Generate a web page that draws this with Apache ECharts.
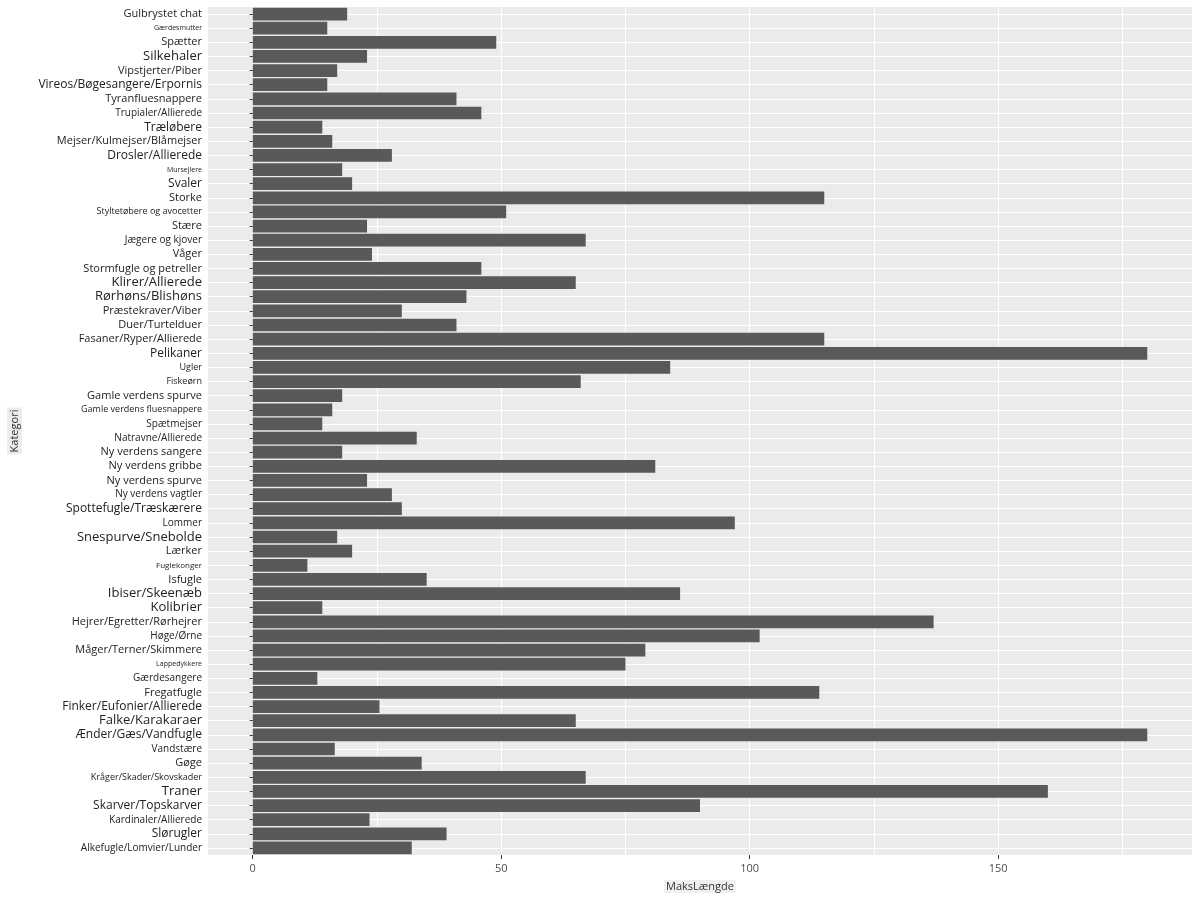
<!DOCTYPE html>
<html>
<head>
<meta charset="utf-8">
<script src="https://cdn.jsdelivr.net/npm/echarts@6/dist/echarts.min.js"></script>
<style>
  html, body {margin: 0; padding: 0; background: #fff;}
  #chart {width: 1200px; height: 900px;}
</style>
</head>
<body>
<div id="chart"></div>
<script>
// categories top to bottom
let categories = [
    'Gulbrystet chat', 'Gærdesmutter', 'Spætter', 'Silkehaler', 'Vipstjerter/Piber',
    'Vireos/Bøgesangere/Erpornis', 'Tyranfluesnappere', 'Trupialer/Allierede', 'Træløbere',
    'Mejser/Kulmejser/Blåmejser', 'Drosler/Allierede', 'Mursejlere', 'Svaler', 'Storke',
    'Styltetøbere og avocetter', 'Stære', 'Jægere og kjover', 'Våger', 'Stormfugle og petreller',
    'Klirer/Allierede', 'Rørhøns/Blishøns', 'Præstekraver/Viber', 'Duer/Turtelduer',
    'Fasaner/Ryper/Allierede', 'Pelikaner', 'Ugler', 'Fiskeørn', 'Gamle verdens spurve',
    'Gamle verdens fluesnappere', 'Spætmejser', 'Natravne/Allierede', 'Ny verdens sangere',
    'Ny verdens gribbe', 'Ny verdens spurve', 'Ny verdens vagtler', 'Spottefugle/Træskærere',
    'Lommer', 'Snespurve/Snebolde', 'Lærker', 'Fuglekonger', 'Isfugle', 'Ibiser/Skeenæb',
    'Kolibrier', 'Hejrer/Egretter/Rørhejrer', 'Høge/Ørne', 'Måger/Terner/Skimmere',
    'Lappedykkere', 'Gærdesangere', 'Fregatfugle', 'Finker/Eufonier/Allierede',
    'Falke/Karakaraer', 'Ænder/Gæs/Vandfugle', 'Vandstære', 'Gøge', 'Kråger/Skader/Skovskader',
    'Traner', 'Skarver/Topskarver', 'Kardinaler/Allierede', 'Slørugler', 'Alkefugle/Lomvier/Lunder'
];

let maks_laengde = [
    19, 15, 49, 23, 17,
    15, 41, 46, 14,
    16, 28, 18, 20, 115,
    51, 23, 67, 24, 46,
    65, 43, 30, 41,
    115, 180, 84, 66, 18,
    16, 14, 33, 18,
    81, 23, 28, 30,
    97, 17, 20, 11, 35, 86,
    14, 137, 102, 79,
    75, 13, 114, 25.5,
    65, 180, 16.5, 34, 67,
    160, 90, 23.5, 39, 32
];

let x_ticks = [0, 50, 100, 150];
let x_grid = [0, 25, 50, 75, 100, 125, 150, 175];

// label font sizes (the reference renders them unevenly)
let label_sizes = [
    11, 7, 11, 13, 11,
    12, 11, 10, 12,
    11, 12, 7, 12, 11,
    9, 11, 10, 11, 11,
    13, 13, 11, 11,
    11, 12, 9, 9, 11,
    9, 10, 10, 11,
    11, 11, 10, 12,
    10, 13, 11, 8, 11, 13,
    13, 11, 10, 11,
    7, 10, 11, 12,
    13, 12, 10, 11, 9,
    13, 12, 10, 12, 10
];

let y_data = categories.map((c, i) => ({
    value: c,
    textStyle: {fontSize: label_sizes[i]}
}));

let chart = echarts.init(document.getElementById('chart'), null, {renderer: 'canvas'});

let option = {
    backgroundColor: '#ffffff',
    textStyle: {fontFamily: 'Open Sans'},
    grid: {
        left: 208,
        right: 8,
        top: 7,
        bottom: 45,
        show: true,
        backgroundColor: '#ebebeb',
        borderWidth: 0,
        outerBoundsMode: 'none'
    },
    xAxis: [{
        type: 'value',
        min: -9,
        max: 189,
        axisLine: {show: false},
        axisTick: {show: true, customValues: x_ticks, length: 4, lineStyle: {color: '#333', width: 1}},
        axisLabel: {
            customValues: x_ticks,
            fontSize: 11,
            margin: 8,
            color: function (v) {
                return v === 0 ? '#5b4f9e' : '#4d4d4d';
            }
        },
        splitLine: {show: false},
        name: 'MaksLængde',
        nameLocation: 'middle',
        nameGap: 25,
        nameTextStyle: {
            fontSize: 11, color: '#333',
            backgroundColor: '#f0f0f0', padding: [1, 2]
        }
    }, {
        type: 'value',
        min: -9,
        max: 189,
        position: 'bottom',
        axisLine: {show: false},
        axisTick: {show: false, customValues: x_grid},
        axisLabel: {show: false},
        splitLine: {show: true, lineStyle: {color: '#ffffff', width: 1}}
    }],
    yAxis: {
        type: 'category',
        inverse: true,
        data: y_data,
        axisLine: {show: false},
        axisTick: {show: true, alignWithLabel: true, length: 3, lineStyle: {color: '#333'}},
        axisLabel: {color: '#222', margin: 6, interval: 0},
        splitLine: {show: true, alignWithLabel: true, lineStyle: {color: '#ffffff', width: 1}},
        name: 'Kategori',
        nameLocation: 'middle',
        nameRotate: 90,
        nameGap: 186,
        nameTextStyle: {
            fontSize: 11, color: '#333',
            backgroundColor: '#ececec', padding: [2, 2]
        }
    },
    series: [{
        type: 'bar',
        xAxisIndex: 0,
        data: maks_laengde,
        barCategoryGap: '10%',
        itemStyle: {color: '#595959'},
        silent: true,
        animation: false
    }]
};

chart.setOption(option);
</script>
</body>
</html>
